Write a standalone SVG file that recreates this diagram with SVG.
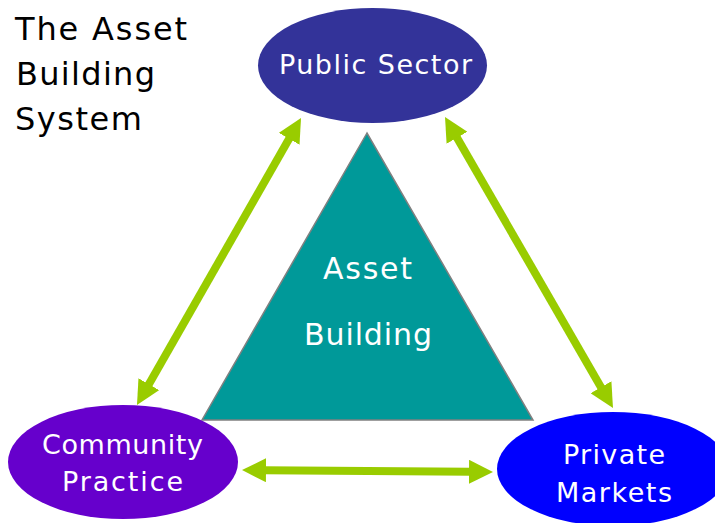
<svg xmlns="http://www.w3.org/2000/svg" width="715" height="523" viewBox="0 0 715 523">
  <style>
    .lbl { font-family: "DejaVu Sans", Verdana, sans-serif; fill: #ffffff; }
    .title { font-family: "DejaVu Sans", Verdana, sans-serif; fill: #000000; font-size: 32px; }
    .node { font-size: 27px; }
    .core { font-size: 30px; }
    .link { stroke: #99cc00; stroke-width: 8; fill: none; marker-start: url(#head); marker-end: url(#head); }
  </style>
  <defs>
    <marker id="head" markerUnits="userSpaceOnUse" viewBox="0 0 24 24" markerWidth="24" markerHeight="24" refX="2" refY="12" orient="auto-start-reverse">
      <path d="M0,0 L24,12 L0,24 Z" fill="#99cc00"/>
    </marker>
  </defs>
  <rect width="715" height="523" fill="#ffffff"/>

  <!-- heading -->
  <g id="title">
    <text class="title" x="15" y="40" textLength="172" lengthAdjust="spacing">The Asset</text>
    <text class="title" x="16" y="85" textLength="139" lengthAdjust="spacing">Building</text>
    <text class="title" x="15" y="130" textLength="127" lengthAdjust="spacing">System</text>
  </g>

  <!-- central triangle -->
  <g id="asset-building">
    <polygon points="367,133 202,420 533,420" fill="#009999" stroke="#808080" stroke-width="1.5"/>
    <text class="lbl core" x="323" y="279" textLength="89" lengthAdjust="spacing">Asset</text>
    <text class="lbl core" x="304" y="345" textLength="128" lengthAdjust="spacing">Building</text>
  </g>

  <!-- two-way links between the three sectors -->
  <g id="connectors">
    <line class="link" x1="290.1" y1="137.1" x2="147.9" y2="385.9"/>
    <line class="link" x1="456" y1="136.1" x2="602" y2="388.9"/>
    <line class="link" x1="264" y1="470.2" x2="471" y2="471.8"/>
  </g>

  <g id="public-sector">
    <ellipse cx="372.5" cy="65.5" rx="114.5" ry="57.5" fill="#333399"/>
    <text class="lbl node" x="279" y="74" textLength="193" lengthAdjust="spacing">Public Sector</text>
  </g>

  <g id="community-practice">
    <ellipse cx="123" cy="462" rx="115" ry="57" fill="#6600cc"/>
    <text class="lbl node" x="42" y="454" textLength="161" lengthAdjust="spacing">Community</text>
    <text class="lbl node" x="62" y="491" textLength="121" lengthAdjust="spacing">Practice</text>
  </g>

  <g id="private-markets">
    <ellipse cx="613" cy="469" rx="116" ry="57" fill="#0000ff"/>
    <text class="lbl node" x="563" y="464" textLength="102" lengthAdjust="spacing">Private</text>
    <text class="lbl node" x="556" y="502" textLength="116" lengthAdjust="spacing">Markets</text>
  </g>
</svg>
